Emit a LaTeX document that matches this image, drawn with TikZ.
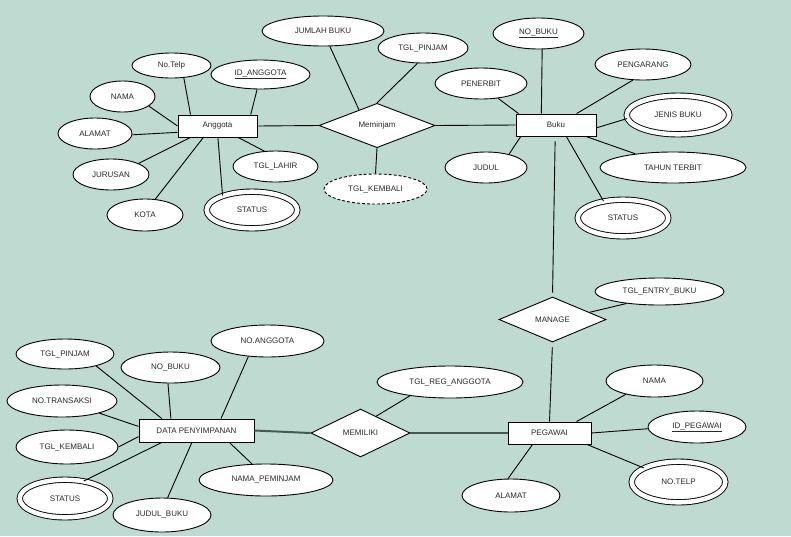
\documentclass[tikz,border=0pt]{standalone}
\usepackage{fontspec}
\setmainfont{Liberation Sans}
\usetikzlibrary{shapes.geometric}
\definecolor{bgc}{RGB}{190,218,209}
\definecolor{txt}{RGB}{40,40,40}
\definecolor{thk}{RGB}{70,90,82}
\tikzset{
  sz/.style 2 args={minimum width=#1pt, minimum height=#2pt},
  base/.style={draw=black, fill=white, line width=0.9pt, inner sep=0pt, text=txt, font=\fontsize{8}{9}\selectfont},
  attr/.style={base, ellipse},
  multi/.style={base, ellipse, double=white, double distance=4.5pt},
  derived/.style={base, ellipse, dash pattern=on 3pt off 2pt},
  entity/.style={base, rectangle},
  rel/.style={base, diamond},
  conn/.style={line width=0.9pt, black},
  thickconn/.style={line width=2pt, thk},
}
\begin{document}
\begin{tikzpicture}[x=1pt, y=-1pt]
\fill[bgc] (0,0) rectangle (791,536);
\useasboundingbox (0,0) rectangle (791,536);

% ---------- Anggota ----------
\node[entity, sz={79}{22}] (anggota) at (217.5,126) {Anggota};
\node[attr, sz={79}{25}] (notelp1) at (171.5,65.5) {No.Telp};
\node[attr, sz={99}{29}] (idang) at (260.5,74.5) {\underline{ID\_ANGGOTA}};
\node[attr, sz={65}{31}] (nama1) at (122.5,96.5) {NAMA};
\node[attr, sz={74}{31}] (alamat1) at (95,133.5) {ALAMAT};
\node[attr, sz={76}{31}] (jurusan) at (111,174.5) {JURUSAN};
\node[attr, sz={76}{32}] (kota) at (145,215) {KOTA};
\node[multi, sz={90.6}{36.6}] (status1) at (252,210) {STATUS};
\node[attr, sz={85}{31}] (tgllahir) at (275.5,166.5) {TGL\_LAHIR};

% ---------- Meminjam ----------
\node[rel, sz={116}{43}] (meminjam) at (377,125.5) {Meminjam};
\node[attr, sz={122}{30}] (jumlah) at (323,31) {JUMLAH BUKU};
\node[attr, sz={90}{30}] (tglpinjam1) at (423,48) {TGL\_PINJAM};
\node[derived, sz={103}{30}] (tglkembali1) at (375.5,189) {TGL\_KEMBALI};

% ---------- Buku ----------
\node[entity, sz={80}{22}] (buku) at (556,125) {Buku};
\node[attr, sz={91}{31}] (nobuku1) at (538.5,33.5) {\underline{NO\_BUKU}};
\node[attr, sz={96}{31}] (pengarang) at (643,64.5) {PENGARANG};
\node[attr, sz={92}{31}] (penerbit) at (481,83.5) {PENERBIT};
\node[multi, sz={102.6}{38.6}] (jenis) at (678,115) {JENIS BUKU};
\node[attr, sz={82}{31}] (judul) at (486,167.5) {JUDUL};
\node[attr, sz={146}{31}] (tahun) at (673,167.5) {TAHUN TERBIT};
\node[multi, sz={90.6}{36.6}] (status2) at (623,218) {STATUS};

% ---------- Manage ----------
\node[rel, sz={107}{45}] (manage) at (552.5,319.5) {MANAGE};
\node[attr, sz={129}{27}] (tglentry) at (659.5,291.5) {TGL\_ENTRY\_BUKU};

% ---------- Pegawai ----------
\node[entity, sz={83}{22}] (pegawai) at (549.5,433) {PEGAWAI};
\node[attr, sz={97}{32}] (nama2) at (654.5,381) {NAMA};
\node[attr, sz={98}{32}] (idpeg) at (697,427) {\underline{ID\_PEGAWAI}};
\node[multi, sz={93.6}{40.6}] (notelp2) at (678.5,482) {NO.TELP};
\node[attr, sz={98}{33}] (alamat2) at (511,495.5) {ALAMAT};

% ---------- Memiliki ----------
\node[rel, sz={99}{48}] (memiliki) at (360.5,433) {MEMILIKI};
\node[attr, sz={146}{32}] (tglreg) at (450,382) {TGL\_REG\_ANGGOTA};

% ---------- Data Penyimpanan ----------
\node[entity, sz={115}{23}] (data) at (196.5,430.5) {DATA PENYIMPANAN};
\node[attr, sz={98}{30}] (tglpinjam2) at (65,354) {TGL\_PINJAM};
\node[attr, sz={99}{31}] (nobuku2) at (170.5,367.5) {NO\_BUKU};
\node[attr, sz={113}{32}] (noang) at (267.5,341) {NO.ANGGOTA};
\node[attr, sz={110}{32}] (notrans) at (62,401) {NO.TRANSAKSI};
\node[attr, sz={102}{34}] (tglkembali2) at (67,447) {TGL\_KEMBALI};
\node[multi, sz={90.6}{37.6}] (status3) at (65,498.5) {STATUS};
\node[attr, sz={98}{34}] (judulbuku) at (162,515) {JUDUL\_BUKU};
\node[attr, sz={134}{32}] (namapem) at (266,480) {NAMA\_PEMINJAM};

% ---------- connectors ----------
\draw[conn] (notelp1.-45) -- (anggota.157);
\draw[conn] (idang.-103) -- (anggota.19);
\draw[conn] (nama1.-20) -- (anggota.180);
\draw[conn] (alamat1.-2) -- (anggota.189);
\draw[conn] (jurusan.22) -- (anggota.203);
\draw[conn] (kota.57) -- (anggota.219);
\draw[conn] (status1.154) -- (anggota.272);
\draw[conn] (tgllahir.126) -- (anggota.-29);
\draw[conn] (anggota.east) -- (meminjam.west);
\draw[conn] (jumlah.-66) -- (meminjam.139);
\draw[conn] (tglpinjam1.-110) -- (meminjam.north);
\draw[conn] (meminjam.south) -- (tglkembali1.north);
\draw[conn] (meminjam.east) -- (buku.west);

\draw[conn] (nobuku1.-77) -- (buku.142);
\draw[conn] (pengarang.-123) -- (buku.29);
\draw[conn] (penerbit.-41) -- (buku.163);
\draw[conn] (jenis.184) -- (buku.-4);
\draw[conn] (tahun.160) -- (buku.-21);
\draw[conn] (status2.139) -- (buku.-48);
\draw[conn] (judul.30) -- (buku.198);
\draw[conn, shorten <=5pt, shorten >=4pt] (buku.-94) -- (manage.north);

\draw[conn] (tglentry.200) -- (manage.11);
\draw[conn, shorten <=5pt] (manage.south) -- (pegawai.north);

\draw[conn] (nama2.205) -- (pegawai.23);
\draw[conn] (idpeg.182) -- (pegawai.0);
\draw[conn] (notelp2.158) -- (pegawai.-17);
\draw[conn] (alamat2.100) -- (pegawai.214);

\draw[thickconn] (memiliki.east) -- (pegawai.west);
\draw[conn] (tglreg.199) -- (memiliki.47);
\draw[thickconn] (data.east) -- (memiliki.west);

\draw[conn] (tglpinjam2.-21) -- (data.161);
\draw[conn] (nobuku2.-99) -- (data.155);
\draw[conn] (noang.-141) -- (data.26);
\draw[conn] (notrans.-18) -- (data.176.5);
\draw[conn] (tglkembali2.0) -- (data.186.5);
\draw[conn] (status3.43) -- (data.199);
\draw[conn] (judulbuku.72) -- (data.249);
\draw[conn] (namapem.131) -- (data.-20);
\end{tikzpicture}
\end{document}
